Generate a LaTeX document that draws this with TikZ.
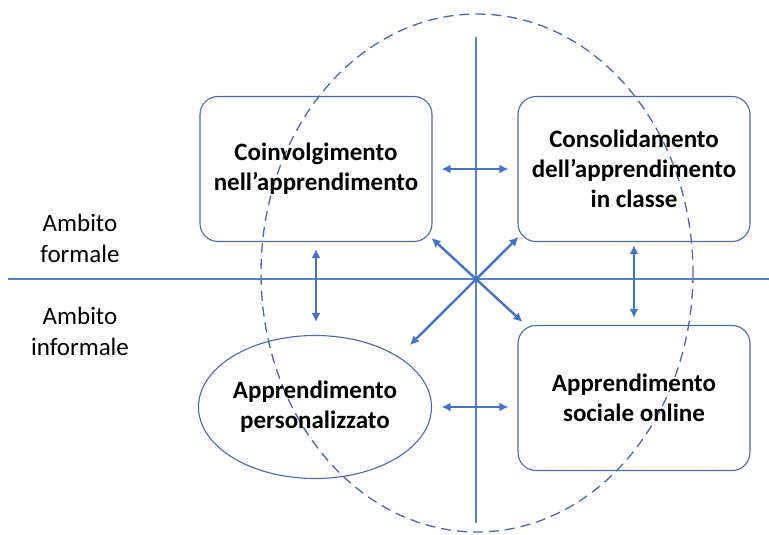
\documentclass[tikz,border=0pt]{standalone}
\usepackage{fontspec}
\setmainfont{Carlito}
\usetikzlibrary{arrows.meta,shapes.geometric}
\definecolor{officeblue}{HTML}{4472C4}
\definecolor{lineblue}{HTML}{4A66AC}

\begin{document}
\begin{tikzpicture}[x=1pt,y=-1pt]
        \tikzstyle{box}=[draw=lineblue, line width=1.1pt, rounded corners=18pt, minimum width=232pt, minimum height=145pt, align=center, font=\fontsize{25}{30}\selectfont\bfseries]
        \tikzstyle{biarrow}=[<->, >={Latex[length=9pt,width=9pt]}, officeblue, line width=2.4pt]
        \tikzstyle{axis}=[officeblue!90, line width=1.4pt]
        \tikzstyle{side}=[align=center, font=\fontsize{25}{31}\selectfont]
    \useasboundingbox (0,0) rectangle (769,535);
    \draw[lineblue, line width=1.3pt, dash pattern=on 10pt off 6pt] (477,273) ellipse [x radius=216, y radius=259];
    % axes
    \coordinate (hl) at (8,279);
    \coordinate (hr) at (769,279);
    \coordinate (vt) at (476,37);
    \coordinate (vb) at (476,523);
    \draw[axis] (hl) -- (hr);
    \draw[axis] (vt) -- (vb);
    % the four boxes
    \node[box] (tl) at (316,169) {Coinvolgimento\\nell'apprendimento};
    \node[box] (tr) at (634,169) {Consolidamento\\dell'apprendimento\\in classe};
    \node[box] (br) at (634,398) {Apprendimento\\sociale online};
    \node[draw=lineblue, line width=1.1pt, ellipse, minimum width=233pt, minimum height=143pt, inner sep=0pt, align=center, font=\fontsize{25}{30}\selectfont\bfseries] (bl) at (315,407) {Apprendimento\\personalizzato};
    \node[side] (formal) at (80,238) {Ambito\\formale};
    \node[side] (informal) at (80,331) {Ambito\\informale};
    % arrows
    \draw[biarrow, shorten <=9pt, shorten >=9pt] (tl.east) -- (tr.west);
    \draw[biarrow, shorten <=9.5pt, shorten >=9pt] (bl.east) -- (bl.east -| br.west);
    \draw[biarrow, shorten <=7pt, shorten >=13pt] (tl.south) -- (tl.south |- bl.north);
    \draw[biarrow, shorten <=3pt, shorten >=7pt] (tr.south) -- (br.north);
    \draw[biarrow] ([shift={(-1,-4)}]tl.south east) -- ([shift={(5,-3)}]br.north west);
    \draw[biarrow] ([shift={(1,-5)}]tr.south west) -- ([shift={(95,-62)}]bl.center);
\end{tikzpicture}
\end{document}
